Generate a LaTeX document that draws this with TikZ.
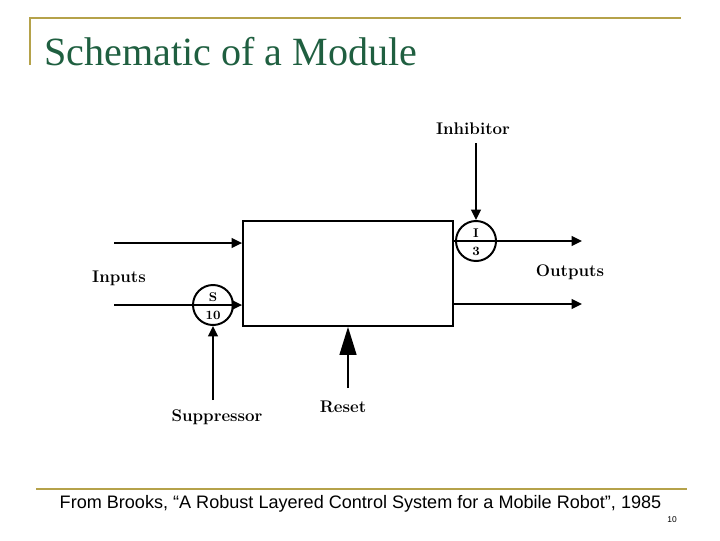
\documentclass[tikz,border=0pt]{standalone}
\usepackage{fontspec}
\usepackage{tikz}
\usetikzlibrary{arrows.meta}
\newfontfamily\titlefont{Liberation Serif}
\newfontfamily\footfont{Liberation Sans}
\definecolor{rulegold}{HTML}{B5A24A}
\definecolor{titlegreen}{HTML}{1F5F40}
\tikzset{
  wire/.style={line width=1.4pt, -{Triangle[length=2.6mm, width=2.4mm]}},
  gate/.style={draw, circle, line width=1.4pt, minimum size=1cm, inner sep=0pt},
  gatetext/.style={font=\bfseries\small, inner sep=0pt},
  lab/.style={font=\bfseries\large, inner sep=0pt},
  goldrule/.style={rulegold, line width=1.4pt}
}
\begin{document}
\begin{tikzpicture}[x=0.025cm, y=-0.025cm]
\useasboundingbox (0,0) rectangle (720,540);

% Slide frame
\coordinate (ruleA) at (30,18);
\coordinate (ruleB) at (681,18);
\coordinate (ruleC) at (30,65);
\coordinate (ruleD) at (36,489);
\coordinate (ruleE) at (687,489);
\draw[goldrule] (ruleC) -- (ruleA) -- (ruleB);
\draw[goldrule] (ruleD) -- (ruleE);

% Title and footer
\node[anchor=base west, inner sep=0pt, text=titlegreen, font=\titlefont\fontsize{28.5}{30}\selectfont] (title) at (44,65) {Schematic of a Module};
\node[anchor=base, inner sep=0pt, font=\footfont\fontsize{12.85}{14}\selectfont] (source) at (360.5,508) {From Brooks, “A Robust Layered Control System for a Mobile Robot”, 1985};
\node[inner sep=0pt, font=\footfont\fontsize{6}{7}\selectfont] (pagenum) at (672,520) {10};

% Module
\node[draw, line width=1.2pt, minimum width=5.25cm, minimum height=2.625cm, inner sep=0pt] (module) at (348,273.5) {};

% Suppressor and inhibitor
\node[gate] (supp) at (213,305) {};
\node[gate] (inhib) at (476,241) {};
\node[gatetext] (suppS) at (213,297) {S};
\node[gatetext] (suppT) at (213,315) {10};
\node[gatetext] (inhibI) at (476,233) {I};
\node[gatetext] (inhibT) at (476,251) {3};

% Free ends
\coordinate (inA) at (114,243);
\coordinate (inB) at (114,305);
\coordinate (suppend) at (213,400);
\coordinate (resetend) at (348,388);
\coordinate (inhibend) at (476,143);
\coordinate (outA) at (582,241);
\coordinate (outB) at (582,304);

% Arrows
\draw[wire] (inA) -- (inA -| module.west);
\draw[wire] (inB) -- (inB -| module.west);
\draw[wire] (suppend) -- (supp.south);
\draw[wire] (inhibend) -- (inhib.north);
\draw[wire] (outA -| module.east) -- (outA);
\draw[wire] (outB -| module.east) -- (outB);

% Reset arrow
\draw[line width=1.4pt, -{Triangle[length=7mm, width=4.2mm]}] (resetend) -- (resetend |- module.south);

% Labels
\node[lab] (inputs) at (119,278) {Inputs};
\node[lab] (outputs) at (570,272) {Outputs};
\node[lab] (inhiblab) at (473,129) {Inhibitor};
\node[lab] (supplab) at (217,417) {Suppressor};
\node[lab] (resetlab) at (343,407) {Reset};

\end{tikzpicture}
\end{document}
